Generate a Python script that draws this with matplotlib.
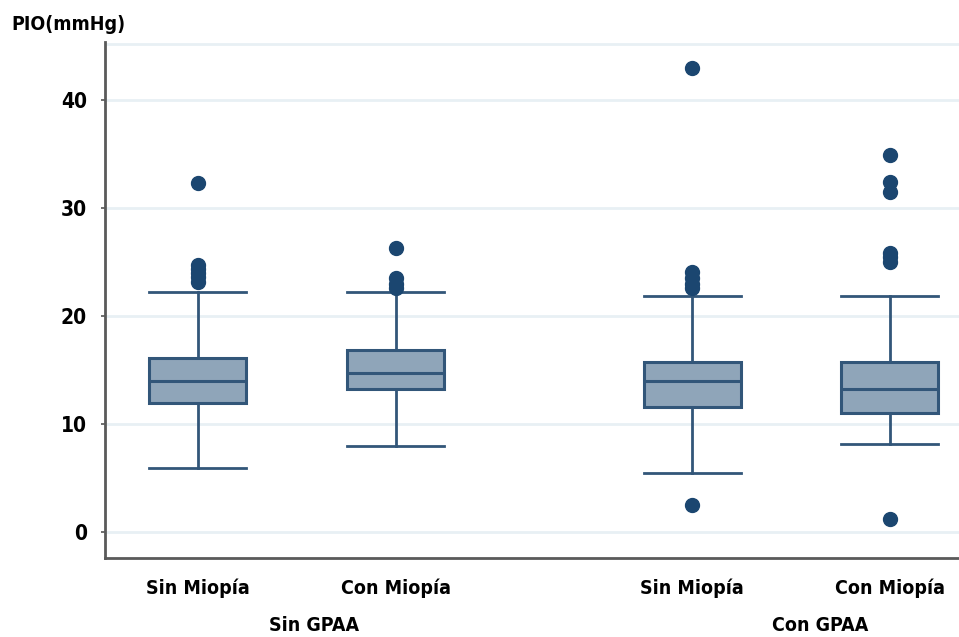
import matplotlib
matplotlib.use("Agg")
import matplotlib.pyplot as plt

plt.rcParams['font.family'] = ['DejaVu Sans']
plt.rcParams['font.stretch'] = 'condensed'
plt.rcParams['font.weight'] = 'bold'

# PIO (mmHg) summary per group: whisker low, Q1, median, Q3, whisker high
categories = ["Sin Miopía", "Con Miopía", "Sin Miopía", "Con Miopía"]
groups = ["Sin GPAA", "Con GPAA"]
whislo = [5.9, 8.0, 5.5, 8.2]
q1 = [12.0, 13.3, 11.6, 11.0]
med = [14.0, 14.7, 14.0, 13.3]
q3 = [16.1, 16.85, 15.8, 15.8]
whishi = [22.2, 22.2, 21.9, 21.9]
outliers = [
    [23.2, 23.6, 24.0, 24.4, 24.7, 32.3],
    [22.6, 23.0, 23.5, 26.3],
    [2.5, 22.6, 23.0, 23.5, 24.1, 43.0],
    [1.2, 25.0, 25.5, 25.9, 31.5, 32.4, 34.9],
]
positions = [1, 2, 3.5, 4.5]
group_label_x = [1.59, 4.15]
yticks = [0, 10, 20, 30, 40]

box_fill = "#8fa5b9"
box_edge = "#325679"
dot_color = "#1b4670"

fig = plt.figure(figsize=(9.59, 6.37), dpi=100)
ax = fig.add_axes([0.1095, 0.124, 0.8905, 0.81])

stats = []
for i in range(len(categories)):
    stats.append(dict(whislo=whislo[i], q1=q1[i], med=med[i], q3=q3[i],
                      whishi=whishi[i], fliers=outliers[i]))

ax.bxp(stats, positions=positions, widths=0.49, patch_artist=True,
       boxprops=dict(facecolor=box_fill, edgecolor=box_edge, linewidth=2.2),
       medianprops=dict(color=box_edge, linewidth=2.2),
       whiskerprops=dict(color=box_edge, linewidth=2),
       capprops=dict(color=box_edge, linewidth=2),
       capwidths=0.49,
       flierprops=dict(marker='o', markerfacecolor=dot_color,
                       markeredgecolor=dot_color, markersize=10))

ax.set_xlim(0.53, 4.85)
ax.set_ylim(-2.4, 45.4)
ax.set_yticks(yticks)
ax.set_yticklabels([str(t) for t in yticks], fontsize=15, fontweight='bold')
ax.set_xticks(positions)
ax.set_xticklabels(categories, fontsize=14, fontweight='bold')
ax.tick_params(axis='x', length=0, pad=15)
ax.tick_params(axis='y', length=3, width=1.2, color="#555555", pad=10)

for y in yticks + [45.2]:
    ax.axhline(y, color="#e8f0f4", linewidth=2, zorder=0)

for side in ['top', 'right']:
    ax.spines[side].set_visible(False)
ax.spines['left'].set_color("#5a5a5a")
ax.spines['left'].set_linewidth(2)
ax.spines['bottom'].set_color("#5a5a5a")
ax.spines['bottom'].set_linewidth(2)

for gx, g in zip(group_label_x, groups):
    ax.text(gx, -0.13, g, transform=ax.get_xaxis_transform(), ha='center',
            va='center', fontsize=14, fontweight='bold')

fig.text(0.012, 0.962, "PIO(mmHg)", ha='left', va='center', fontsize=14,
         fontweight='bold')

fig.savefig("out.png", dpi=100)
